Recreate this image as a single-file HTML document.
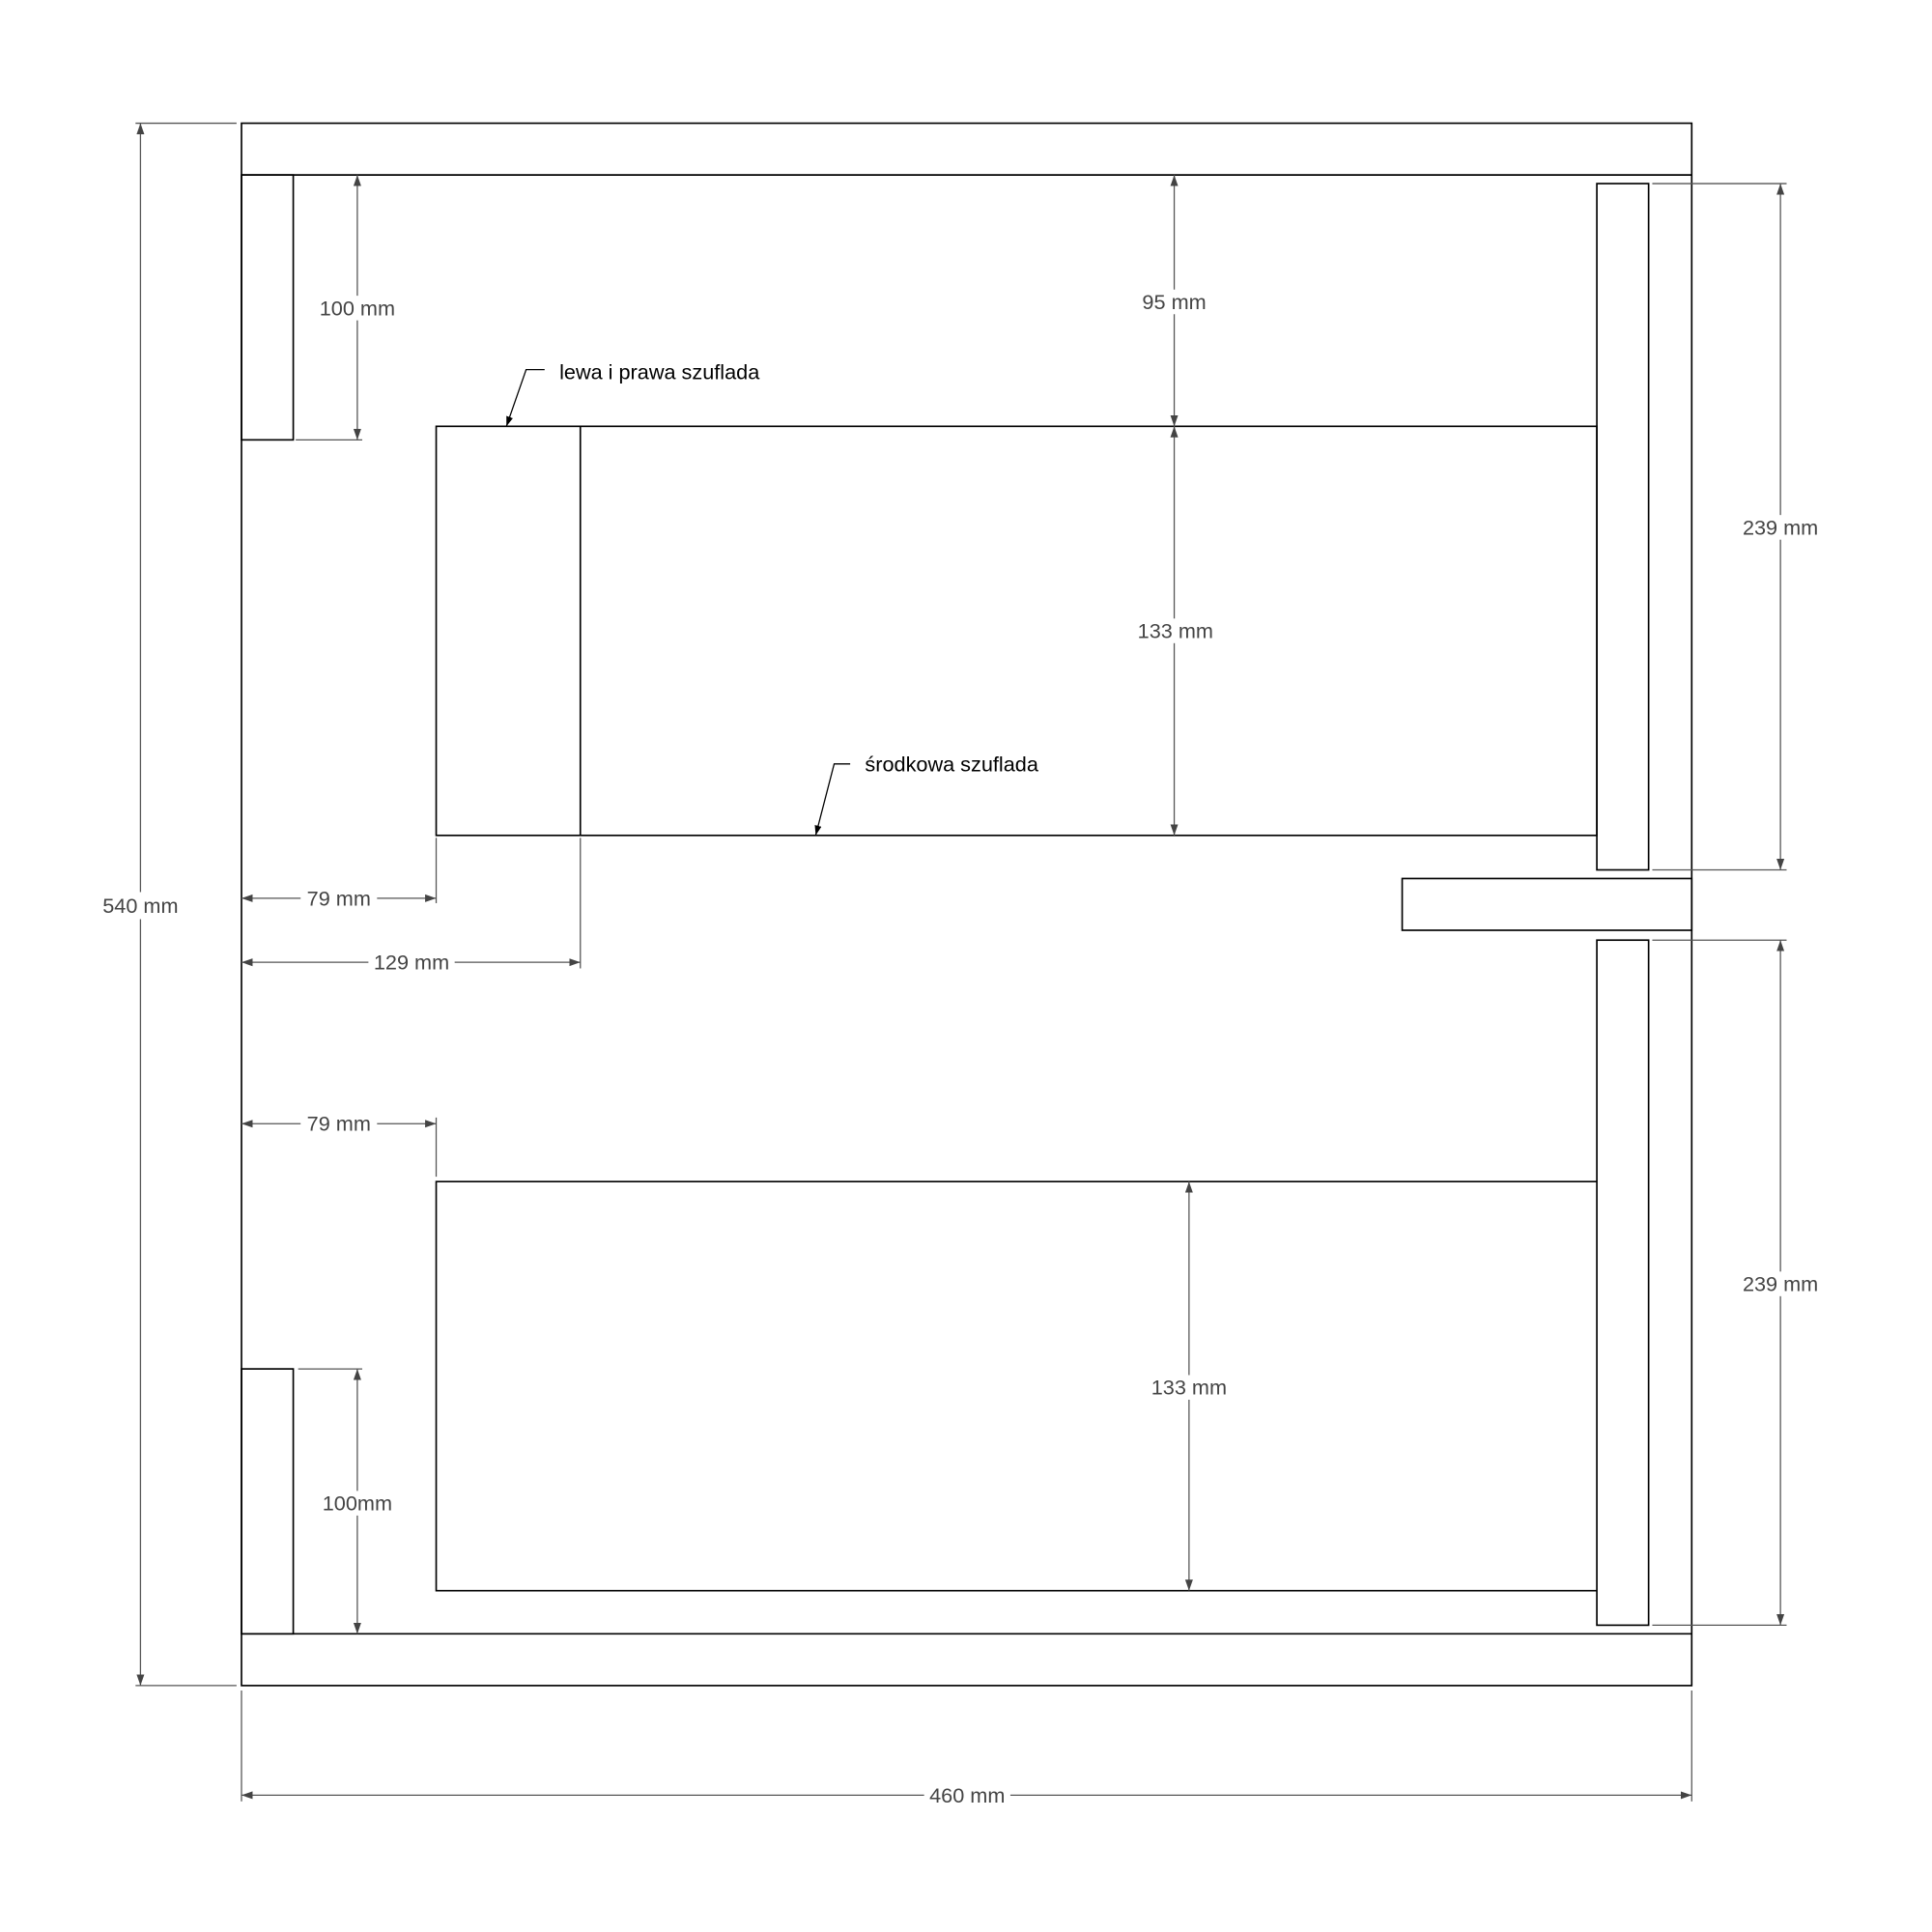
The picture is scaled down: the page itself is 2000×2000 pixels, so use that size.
<!DOCTYPE html>
<html><head><meta charset="utf-8"><style>
html,body{margin:0;padding:0;background:#fff;width:2000px;height:2000px;overflow:hidden}
svg{display:block}
text{font-family:"Liberation Sans",sans-serif;font-size:17px;fill:#444;text-anchor:middle;dominant-baseline:central}
</style></head><body>
<svg width="2000" height="2000" viewBox="0 0 1568 1568" xmlns="http://www.w3.org/2000/svg">
<defs>
<marker id="a" viewBox="0 0 10 10" refX="10" refY="5" markerWidth="9" markerHeight="9" orient="auto-start-reverse" markerUnits="userSpaceOnUse"><path d="M0,1.5 L10,5 L0,8.5 z" fill="#444"/></marker>
<marker id="b" viewBox="0 0 10 10" refX="10" refY="5" markerWidth="8" markerHeight="8" orient="auto" markerUnits="userSpaceOnUse"><path d="M0,1.5 L10,5 L0,8.5 z" fill="#000"/></marker>
</defs>
<g fill="none" stroke="#000" stroke-width="1.3">
<rect x="196" y="100" width="1177" height="1268"/>
<line x1="196" y1="142" x2="1373" y2="142"/>
<line x1="196" y1="1326" x2="1373" y2="1326"/>
<rect x="196" y="142" width="42" height="215"/>
<rect x="196" y="1111" width="42" height="215"/>
<rect x="354" y="346" width="942" height="332"/>
<line x1="471" y1="346" x2="471" y2="678"/>
<rect x="1296" y="149" width="42" height="557"/>
<rect x="1296" y="763" width="42" height="556"/>
<rect x="1138" y="713" width="235" height="42"/>
<polyline points="1296,959 354,959 354,1291 1296,1291"/>
</g>
<g fill="none" stroke="#555" stroke-width="1">
<line x1="110" y1="100" x2="192" y2="100"/><line x1="110" y1="1368" x2="192" y2="1368"/>
<line x1="196" y1="1372" x2="196" y2="1462"/><line x1="1373" y1="1372" x2="1373" y2="1462"/>
<line x1="240" y1="357" x2="294" y2="357"/>
<line x1="242" y1="1111" x2="294" y2="1111"/>
<line x1="1341" y1="149" x2="1450" y2="149"/><line x1="1341" y1="706" x2="1450" y2="706"/>
<line x1="1341" y1="763" x2="1450" y2="763"/><line x1="1341" y1="1319" x2="1450" y2="1319"/>
<line x1="354" y1="680" x2="354" y2="733"/>
<line x1="471" y1="680" x2="471" y2="786"/>
<line x1="354" y1="907" x2="354" y2="955"/>
</g>
<g fill="none" stroke="#555" stroke-width="1" marker-start="url(#a)" marker-end="url(#a)">
<line x1="114" y1="100" x2="114" y2="1368"/>
<line x1="196" y1="1457" x2="1373" y2="1457"/>
<line x1="290" y1="142" x2="290" y2="357"/>
<line x1="953" y1="142" x2="953" y2="346"/>
<line x1="953" y1="346" x2="953" y2="678"/>
<line x1="1445" y1="149" x2="1445" y2="706"/>
<line x1="1445" y1="763" x2="1445" y2="1319"/>
<line x1="196" y1="729" x2="354" y2="729"/>
<line x1="196" y1="781" x2="471" y2="781"/>
<line x1="196" y1="912" x2="354" y2="912"/>
<line x1="965" y1="959" x2="965" y2="1291"/>
<line x1="290" y1="1111" x2="290" y2="1326"/>
</g>
<g>
<rect x="78" y="724" width="72" height="22" fill="#fff"/><text x="114" y="735">540 mm</text>
<rect x="750" y="1447" width="70" height="20" fill="#fff"/><text x="785" y="1457">460 mm</text>
<rect x="255" y="240" width="70" height="20" fill="#fff"/><text x="290" y="250">100 mm</text>
<rect x="923" y="235" width="60" height="20" fill="#fff"/><text x="953" y="245">95 mm</text>
<rect x="919" y="502" width="70" height="20" fill="#fff"/><text x="954" y="512">133 mm</text>
<rect x="1410" y="418" width="70" height="20" fill="#fff"/><text x="1445" y="428">239 mm</text>
<rect x="1410" y="1032" width="70" height="20" fill="#fff"/><text x="1445" y="1042">239 mm</text>
<rect x="244" y="719" width="62" height="20" fill="#fff"/><text x="275" y="729">79 mm</text>
<rect x="299" y="771" width="70" height="20" fill="#fff"/><text x="334" y="781">129 mm</text>
<rect x="244" y="902" width="62" height="20" fill="#fff"/><text x="275" y="912">79 mm</text>
<rect x="930" y="1116" width="70" height="20" fill="#fff"/><text x="965" y="1126">133 mm</text>
<rect x="257" y="1210" width="66" height="20" fill="#fff"/><text x="290" y="1220">100mm</text>
</g>
<g fill="none" stroke="#000" stroke-width="1">
<polyline points="442,300 427,300 411,346" marker-end="url(#b)"/>
<polyline points="690,620 677,620 662,678" marker-end="url(#b)"/>
</g>
<text x="454" y="302" style="fill:#000;text-anchor:start">lewa i prawa szuflada</text>
<text x="702" y="620" style="fill:#000;text-anchor:start">środkowa szuflada</text>
</svg>
</body></html>
